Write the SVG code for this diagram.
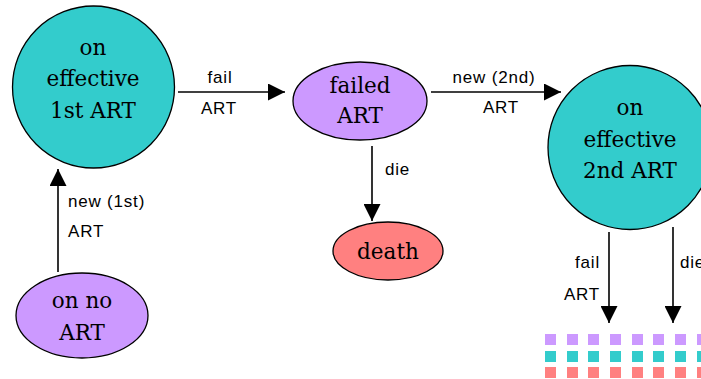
<svg xmlns="http://www.w3.org/2000/svg" width="701" height="379" viewBox="0 0 701 379">
<style>
.node{stroke:#000;stroke-width:1.3}
.teal{fill:#33CCCC}
.purple{fill:#CC99FF}
.red{fill:#FF8080}
.nt{font-family:"DejaVu Serif",serif;font-size:21.5px;fill:#000;text-anchor:middle}
.lt{font-family:"Liberation Sans",Arial,sans-serif;font-size:17px;letter-spacing:0.8px;fill:#000}
.edge{stroke:#000;stroke-width:1.6;fill:none}
</style>
<defs>
<marker id="arr" viewBox="0 0 10 10" refX="10" refY="5" markerWidth="18" markerHeight="17" markerUnits="userSpaceOnUse" orient="auto">
<path d="M0,0 L10,5 L0,10 z" fill="#000"/>
</marker>
</defs>
<rect width="701" height="379" fill="#fff"/>
<g id="connectors">
<line class="edge" x1="178" y1="92" x2="285" y2="92" marker-end="url(#arr)"/>
<line class="edge" x1="431" y1="92" x2="561" y2="92" marker-end="url(#arr)"/>
<line class="edge" x1="372" y1="146" x2="372" y2="221" marker-end="url(#arr)"/>
<line class="edge" x1="58" y1="272" x2="58" y2="169" marker-end="url(#arr)"/>
<line class="edge" x1="609" y1="232" x2="609" y2="323" marker-end="url(#arr)"/>
<line class="edge" x1="673" y1="227" x2="673" y2="323" marker-end="url(#arr)"/>
<text class="lt" x="220" y="83" text-anchor="middle">fail</text>
<text class="lt" x="219" y="114" text-anchor="middle">ART</text>
<text class="lt" x="494" y="83" text-anchor="middle">new (2nd)</text>
<text class="lt" x="501" y="113" text-anchor="middle">ART</text>
<text class="lt" x="385" y="175">die</text>
<text class="lt" x="68" y="207">new (1st)</text>
<text class="lt" x="68" y="237">ART</text>
<text class="lt" x="600" y="268" text-anchor="end">fail</text>
<text class="lt" x="600" y="300" text-anchor="end">ART</text>
<text class="lt" x="680" y="268">die</text>
</g>
<g id="node-first">
<circle class="node teal" cx="93.5" cy="87" r="81"/>
<text class="nt" x="93" y="55">on</text>
<text class="nt" x="93" y="86">effective</text>
<text class="nt" x="93" y="118">1st ART</text>
</g>
<g id="node-failed">
<ellipse class="node purple" cx="360" cy="101" rx="67" ry="39"/>
<text class="nt" x="360" y="93">failed</text>
<text class="nt" x="360" y="123">ART</text>
</g>
<g id="node-death">
<ellipse class="node red" cx="388" cy="251" rx="55" ry="29"/>
<text class="nt" x="388" y="259">death</text>
</g>
<g id="node-second">
<circle class="node teal" cx="630" cy="147.5" r="82"/>
<text class="nt" x="630" y="115">on</text>
<text class="nt" x="630" y="147">effective</text>
<text class="nt" x="630" y="178">2nd ART</text>
</g>
<g id="node-none">
<ellipse class="node purple" cx="82" cy="315.5" rx="66" ry="42.5"/>
<text class="nt" x="82" y="308">on no</text>
<text class="nt" x="82" y="340">ART</text>
</g>
<g id="squares">
<g class="purple">
<rect x="545" y="334" width="11" height="11"/><rect x="567" y="334" width="11" height="11"/><rect x="588" y="334" width="11" height="11"/><rect x="610" y="334" width="11" height="11"/><rect x="632" y="334" width="11" height="11"/><rect x="653" y="334" width="11" height="11"/><rect x="675" y="334" width="11" height="11"/><rect x="697" y="334" width="11" height="11"/>
</g>
<g class="teal">
<rect x="545" y="351" width="11" height="11"/><rect x="567" y="351" width="11" height="11"/><rect x="588" y="351" width="11" height="11"/><rect x="610" y="351" width="11" height="11"/><rect x="632" y="351" width="11" height="11"/><rect x="653" y="351" width="11" height="11"/><rect x="675" y="351" width="11" height="11"/><rect x="697" y="351" width="11" height="11"/>
</g>
<g class="red">
<rect x="545" y="367" width="11" height="11"/><rect x="567" y="367" width="11" height="11"/><rect x="588" y="367" width="11" height="11"/><rect x="610" y="367" width="11" height="11"/><rect x="632" y="367" width="11" height="11"/><rect x="653" y="367" width="11" height="11"/><rect x="675" y="367" width="11" height="11"/><rect x="697" y="367" width="11" height="11"/>
</g>
</g>
</svg>
